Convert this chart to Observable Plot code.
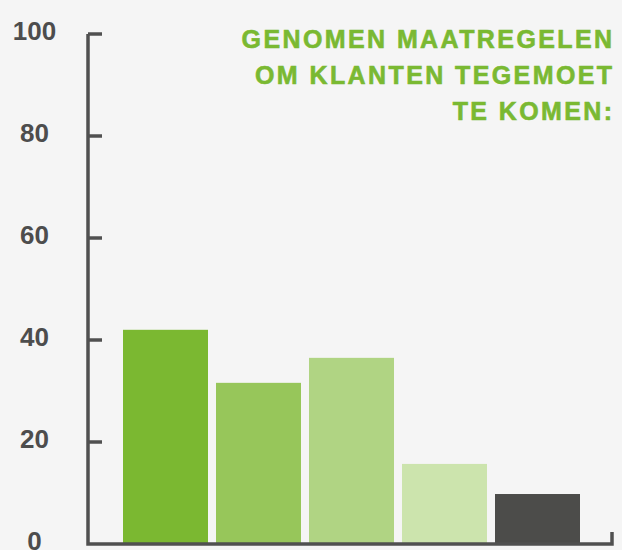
<!DOCTYPE html>
<html>
<head>
<meta charset="utf-8">
<script src="https://cdn.jsdelivr.net/npm/d3@7"></script>
<script src="https://cdn.jsdelivr.net/npm/@observablehq/plot@0.6"></script>
<style>
  html, body { margin: 0; padding: 0; background: #f5f5f5; }
  #chart { width: 622px; height: 550px; }
</style>
</head>
<body>
<div id="chart"></div>
<script>
// Data
const categories = ["Maatregel 1", "Maatregel 2", "Maatregel 3", "Maatregel 4", "Maatregel 5"];
const values = [42, 31.6, 36.5, 15.7, 9.8];
const barColors = ["#7bb831", "#97c65a", "#b0d483", "#cce4ad", "#4c4c4a"];
const yTicks = [0, 20, 40, 60, 80, 100];
const titleLines = ["GENOMEN MAATREGELEN", "OM KLANTEN TEGEMOET", "TE KOMEN:"];

const data = categories.map((c, i) => ({category: c, value: values[i], color: barColors[i]}));

const AXIS = "#505050";

function axisLines(index, scales, vals, dims) {
  const y = scales.y;
  const x0 = dims.marginLeft, x1 = dims.width - dims.marginRight;
  const g = d3.create("svg:g").attr("fill", "none").attr("stroke", AXIS);
  g.append("path")
    .attr("stroke-width", 3.5)
    .attr("d", `M${x0},${y(yTicks[yTicks.length - 1])}V${y(0)}H${x1}V${y(0) - 12}`);
  for (const t of yTicks.slice(1)) {
    g.append("line")
      .attr("stroke-width", 3.5)
      .attr("x1", x0).attr("x2", x0 + 14)
      .attr("y1", y(t)).attr("y2", y(t));
  }
  return g.node();
}

function titleMark(index, scales, vals, dims) {
  const g = d3.create("svg:g")
    .attr("font-family", "'Liberation Sans', Arial, Helvetica, sans-serif")
    .attr("font-size", 25)
    .attr("font-weight", 700)
    .attr("letter-spacing", 2.4)
    .attr("fill", "#7ab932")
    .attr("stroke", "#7ab932")
    .attr("stroke-width", 0.6)
    .attr("text-anchor", "end");
  titleLines.forEach((line, i) => {
    g.append("text")
      .attr("x", dims.width - dims.marginRight + 2.5)
      .attr("y", dims.marginTop + 14 + i * 36)
      .text(line);
  });
  return g.node();
}

const chart = Plot.plot({
  width: 622,
  height: 550,
  marginTop: 34,
  marginBottom: 6,
  marginLeft: 88,
  marginRight: 10,
  style: {background: "#f5f5f5", fontFamily: "'Liberation Sans', Arial, Helvetica, sans-serif"},
  x: {domain: categories, range: [123, 581], paddingInner: 0.0857, paddingOuter: 0, axis: null},
  y: {domain: [0, 100], axis: null},
  color: {type: "identity"},
  marks: [
    Plot.barY(data, {x: "category", y: "value", fill: "color"}),
    Plot.axisY({
      ticks: yTicks,
      label: null,
      tickSize: 0,
      tickPadding: 54,
      textAnchor: "middle",
      fontSize: 26,
      fontWeight: "bold",
      fill: "#4d4d4d",
      dy: -2.5
    }),
    axisLines,
    titleMark
  ]
});
document.getElementById("chart").appendChild(chart);
</script>
</body>
</html>
